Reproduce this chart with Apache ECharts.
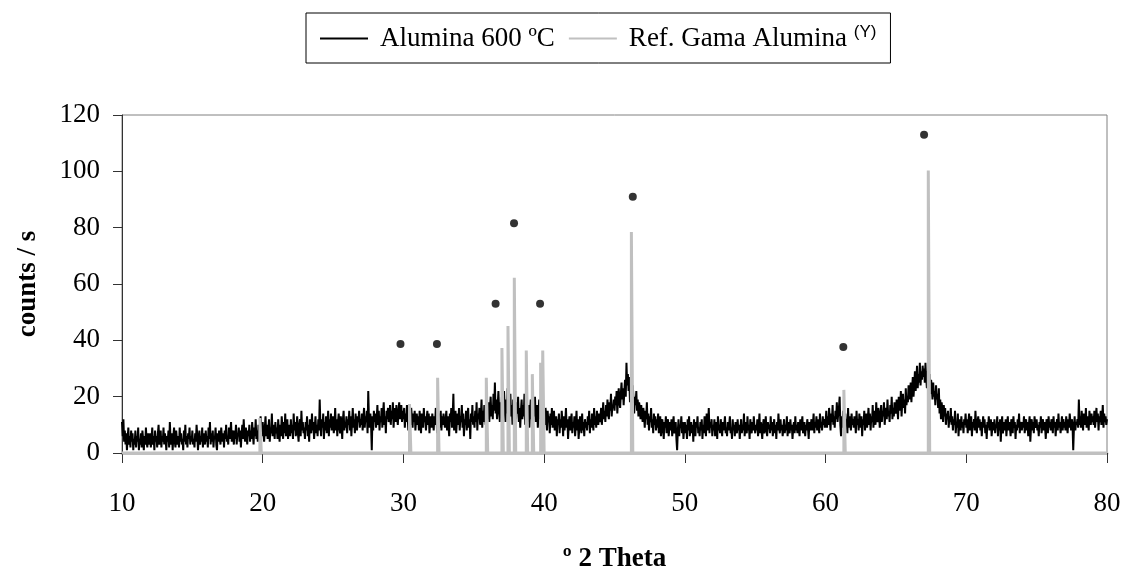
<!DOCTYPE html>
<html>
<head>
<meta charset="utf-8">
<script src="https://cdn.jsdelivr.net/npm/echarts@6/dist/echarts.min.js"></script>
<style>
  html, body { margin: 0; padding: 0; background: #fff; }
  #chart { width: 1126px; height: 574px; }
</style>
</head>
<body>
<div id="chart"></div>
<script>
// scan: 10.00 to 80.00 deg, step 0.05 (one row per degree)
const scanStart = 10
const scanStep = 0.05
const alumina = [
  11,6,12,4,8,3,7,1,5,9,3,6,2,8,4,7,1,5,3,8,
  2,6,4,9,1,5,3,7,2,8,5,1,6,3,9,4,2,7,5,3,
  7,2,5,9,3,6,1,8,4,6,2,7,10,3,5,8,2,6,4,9,
  3,7,5,1,6,4,8,2,11,5,3,7,1,6,9,4,2,8,5,3,
  6,2,9,4,7,3,5,1,8,4,10,3,6,2,7,5,9,3,6,4,
  8,3,5,2,7,4,10,6,1,5,8,3,6,4,9,2,7,5,3,8,
  4,6,2,9,5,11,3,7,4,8,2,6,5,9,3,1,7,4,8,5,
  3,9,6,4,7,2,8,5,10,4,6,3,9,5,7,11,4,8,6,3,
  8,5,10,3,7,6,9,4,8,2,7,10,5,12,6,4,9,7,3,8,
  6,10,4,8,5,11,7,3,9,6,12,5,8,4,10,7,5,13,8,6,
  11,7,4,9,13,6,10,5,8,12,4,9,7,14,6,10,8,5,11,7,
  9,5,12,8,4,10,6,13,9,5,11,7,14,6,9,12,5,10,8,6,
  12,7,10,5,14,8,11,6,9,13,7,4,10,12,6,15,8,11,7,9,
  5,11,8,13,6,10,4,12,9,7,14,8,11,5,9,13,7,10,6,12,
  8,19,10,6,12,9,14,5,11,8,13,7,10,15,6,12,9,14,8,11,
  13,7,10,16,8,12,6,11,14,9,7,13,10,5,12,15,8,11,9,13,
  7,12,10,15,8,13,6,11,16,9,12,7,14,10,8,13,11,15,9,12,
  10,14,8,12,16,9,13,11,15,7,22,12,9,14,10,1,13,8,15,11,
  14,9,12,17,10,15,8,13,11,16,9,14,18,10,13,7,15,12,16,11,
  13,17,10,15,12,18,9,14,16,11,17,13,10,15,18,12,14,17,11,15,
  12,16,9,14,11,17,13,8,15,12,10,16,13,9,14,11,15,8,12,14,
  10,13,8,15,11,7,14,12,9,16,11,13,8,12,15,10,14,7,11,13,
  9,14,11,8,13,10,16,12,7,11,14,9,12,15,8,13,10,14,11,9,
  12,15,8,13,10,6,14,11,16,9,13,21,8,12,15,7,11,14,10,16,
  8,13,11,17,9,14,6,12,10,15,8,13,16,9,12,5,14,11,17,10,
  13,9,15,11,18,8,14,12,16,10,13,19,9,15,11,17,13,10,16,12,
  14,18,11,16,20,13,17,12,21,15,25,14,19,12,17,22,15,11,18,14,
  20,13,17,22,15,11,19,14,23,16,12,18,21,13,17,10,19,15,22,16,
  12,18,14,20,11,16,9,15,19,12,17,13,21,10,15,18,11,14,17,9,
  15,19,12,16,10,18,13,20,11,15,17,9,14,19,12,16,10,13,18,11,
  14,10,16,12,8,15,11,13,7,14,10,16,9,12,15,8,11,13,6,12,
  10,14,7,12,9,15,11,6,13,8,11,16,9,12,5,10,13,8,11,14,
  7,11,9,13,6,10,15,8,12,5,9,13,10,7,14,8,11,6,12,9,
  11,8,13,10,15,7,12,9,14,11,8,16,10,13,9,15,12,10,14,11,
  13,16,10,14,18,12,15,11,17,13,19,14,12,18,15,21,13,17,16,19,
  15,20,17,22,14,19,23,18,16,21,25,19,23,17,22,26,20,32,24,28,
  22,27,18,25,21,16,24,19,14,20,17,22,15,19,13,18,16,12,17,14,
  11,16,13,9,15,12,18,10,14,8,13,11,16,9,12,7,14,10,13,8,
  12,9,14,7,11,13,6,10,12,8,5,11,9,13,7,10,12,6,9,11,
  8,12,6,10,13,7,9,11,5,1,8,12,6,10,9,13,7,11,5,9,
  11,7,10,5,12,8,13,6,9,11,7,10,4,12,8,6,11,9,13,7,
  9,6,11,8,12,5,10,7,13,9,6,14,8,10,16,7,11,9,12,6,
  10,8,12,6,9,11,5,13,8,10,7,12,9,6,11,8,10,13,7,9,
  6,11,8,10,13,7,9,5,12,8,10,6,11,9,7,12,8,10,5,9,
  12,7,10,8,14,6,11,9,7,13,8,10,5,12,9,7,11,8,13,9,
  7,10,8,12,6,9,14,7,11,8,5,10,12,7,9,13,8,6,11,9,
  10,7,13,8,11,6,9,12,7,10,5,11,8,14,9,7,12,8,10,6,
  9,12,7,10,8,13,6,11,9,7,12,8,10,5,9,11,7,13,8,10,
  7,11,9,6,12,8,10,13,7,9,11,6,10,8,12,9,5,11,8,10,
  12,8,10,14,7,11,9,13,8,12,10,7,14,9,11,8,13,10,12,9,
  11,15,9,13,10,16,12,8,14,11,17,10,13,9,15,12,18,11,14,16,
  20,10,6,13,9,15,11,8,14,10,12,7,16,9,13,11,8,14,10,12,
  9,13,11,7,15,10,12,8,14,11,9,13,6,12,10,15,8,11,14,9,
  12,16,10,14,8,13,11,17,9,15,12,10,18,13,11,16,14,9,13,17,
  11,15,13,18,10,14,16,12,19,13,15,11,17,14,20,12,16,13,18,15,
  14,19,16,12,20,17,15,22,13,18,21,16,19,14,23,17,20,18,24,19,
  21,25,18,23,27,20,24,29,22,26,31,23,28,25,32,24,29,26,31,27,
  30,25,32,27,23,29,24,18,28,21,26,23,19,25,20,22,17,24,19,21,
  16,23,14,19,12,18,15,11,17,13,16,10,14,12,15,9,13,11,16,10,
  13,8,12,10,15,7,11,9,14,6,12,10,8,13,9,11,7,12,10,14,
  9,12,7,11,14,8,10,13,6,11,9,12,8,15,10,7,11,13,9,12,
  8,11,6,10,13,9,12,7,10,5,11,9,13,8,10,12,6,9,11,8,
  12,7,10,9,13,6,11,8,12,4,10,13,7,9,11,8,12,6,10,13,
  8,11,9,6,12,10,7,13,9,11,5,10,8,12,9,14,7,11,10,8,
  11,9,13,7,10,12,8,11,6,10,13,4,9,12,8,11,7,13,10,9,
  12,8,10,6,11,9,13,7,10,12,8,11,9,5,12,10,7,13,9,11,
  8,12,10,7,13,9,11,6,10,12,8,14,9,11,7,10,13,8,12,9,
  11,8,13,10,7,12,9,14,11,8,12,10,1,9,13,8,11,10,12,9,
  19,10,13,9,15,11,8,14,12,10,16,9,13,11,8,15,12,10,14,11,
  13,10,15,9,12,16,11,14,8,13,11,15,10,12,17,9,14,11,13,10,
  12
]

// gamma alumina reference sticks
const refPos = [19.8, 30.43, 32.43, 35.89, 37.0, 37.43, 37.88, 38.73, 39.16, 39.75, 39.9, 46.2, 61.3, 67.3]
const refHeight = [12.4, 17.4, 26.7, 26.7, 37.3, 45.1, 62.2, 36.4, 28, 32, 36.4, 78.5, 22.4, 100.3]

// peak markers
const markPos = [29.79, 32.38, 36.55, 37.86, 39.71, 46.3, 61.26, 67.0]
const markVal = [38.7, 38.7, 53, 81.6, 53, 91, 37.6, 113]

const seriesNames = ['Alumina 600 ºC', 'Ref. Gama Alumina']

const font = 'Liberation Serif'

const scanData = alumina.map((v, i) => [+(scanStart + i * scanStep).toFixed(2), v])

const refData = [[10, 0]]
refPos.forEach((p, i) => {
  refData.push([p, 0])
  refData.push([p, refHeight[i]])
  refData.push([p + 0.1, 0])
})
refData.push([80, 0])

const markData = markPos.map((p, i) => [p, markVal[i]])

const chart = echarts.init(document.getElementById('chart'))

const options = {
  animation: false,
  backgroundColor: '#fff',
  grid: {
    left: 122,
    right: 19,
    top: 115,
    bottom: 121,
    outerBoundsMode: 'none',
    containLabel: false,
    show: true,
    borderColor: '#808080',
    borderWidth: 1,
  },
  legend: {
    left: 306,
    top: 13,
    padding: [11, 14, 11, 14],
    borderColor: '#000',
    borderWidth: 1,
    itemGap: 14,
    itemWidth: 48,
    itemHeight: 2,
    icon: 'rect',
    data: seriesNames,
    formatter: (name) => name === seriesNames[1] ? name + ' {sup|(Y)}' : name,
    textStyle: {
      fontFamily: font,
      fontSize: 27,
      color: '#000',
      padding: [0, 0, 0, 7],
      rich: {
        sup: {
          fontFamily: 'Liberation Sans',
          fontSize: 17,
          color: '#000',
          padding: [0, 0, 12, 0],
        },
      },
    },
  },
  xAxis: {
    type: 'value',
    min: 10,
    max: 80,
    interval: 10,
    name: 'º 2 Theta',
    nameLocation: 'middle',
    nameGap: 93,
    nameTextStyle: { fontFamily: font, fontSize: 27, fontWeight: 'bold', color: '#000' },
    axisLine: { show: true, lineStyle: { color: '#c0c0c0', width: 3 } },
    axisTick: { show: true, inside: false, length: 10, lineStyle: { color: '#333' } },
    axisLabel: { fontFamily: font, fontSize: 27, color: '#000', margin: 37 },
    splitLine: { show: false },
  },
  yAxis: {
    type: 'value',
    min: 0,
    max: 120,
    interval: 20,
    name: 'counts / s',
    nameLocation: 'middle',
    nameGap: 80,
    nameTextStyle: { fontFamily: font, fontSize: 27, fontWeight: 'bold', color: '#000' },
    axisLine: { show: true, lineStyle: { color: '#333', width: 1 } },
    axisTick: { show: true, inside: false, length: 9, lineStyle: { color: '#333' } },
    axisLabel: { fontFamily: font, fontSize: 27, color: '#000', margin: 22 },
    splitLine: { show: false },
  },
  series: [
    {
      name: seriesNames[0],
      type: 'line',
      data: scanData,
      symbol: 'none',
      color: '#000',
      lineStyle: { color: '#000', width: 2 },
      z: 2,
    },
    {
      name: seriesNames[1],
      type: 'line',
      data: refData,
      symbol: 'none',
      color: '#c0c0c0',
      lineStyle: { color: '#c0c0c0', width: 3 },
      z: 3,
    },
    {
      name: 'peaks',
      type: 'scatter',
      data: markData,
      symbol: 'circle',
      symbolSize: 8,
      itemStyle: { color: '#000' },
      z: 4,
    },
  ],
}

chart.setOption(options)
</script>
</body>
</html>
